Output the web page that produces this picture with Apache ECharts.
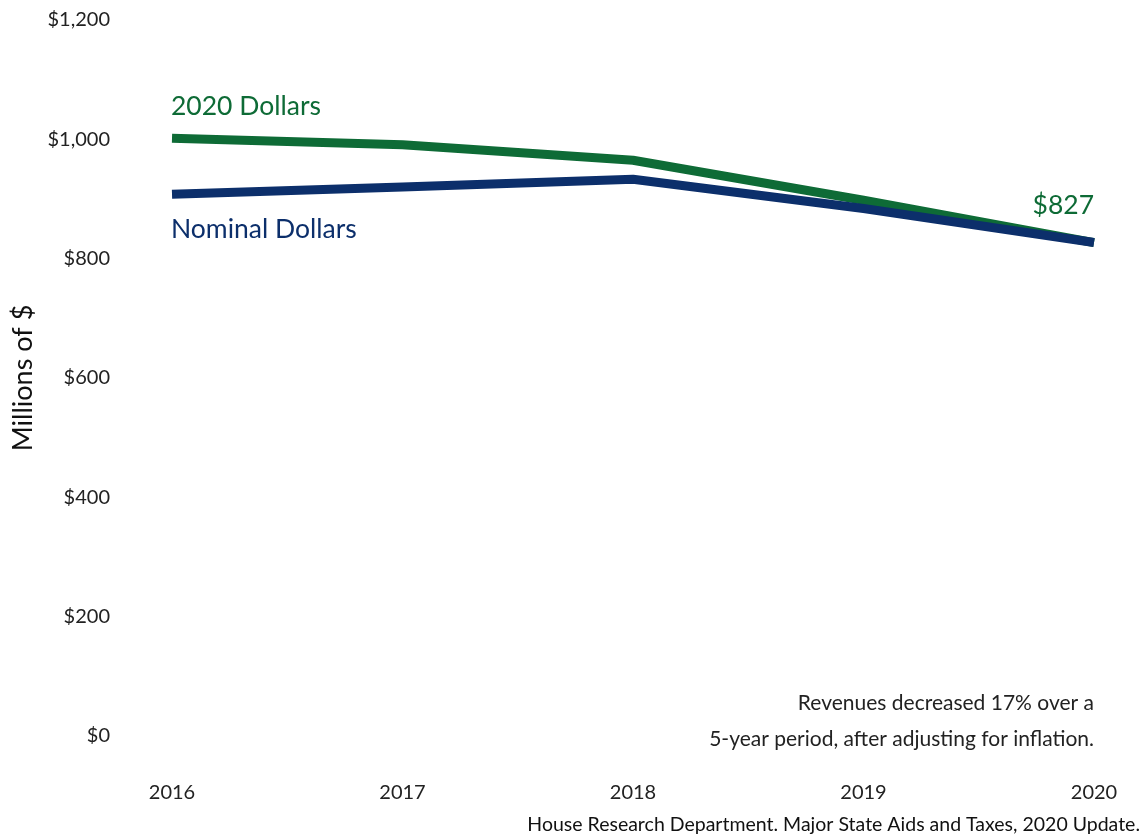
<!DOCTYPE html>
<html>
<head>
<meta charset="utf-8">
<script src="https://cdn.jsdelivr.net/npm/echarts@6/dist/echarts.min.js"></script>
<style>
  html, body { margin: 0; padding: 0; background: #fff; }
  #chart { width: 1146px; height: 840px; }
</style>
</head>
<body>
<div id="chart"></div>
<script>
// data (millions of $)
var years = ['2016', '2017', '2018', '2019', '2020'];
var realDollars = [1002, 991, 965, 898, 827];
var nominalDollars = [908, 920, 933, 884, 827];
var yTicks = [0, 200, 400, 600, 800, 1000, 1200];

var green = '#0e6b36';
var navy = '#0c2f6b';
var font = 'Lato';

var chart = echarts.init(document.getElementById('chart'));

var option = {
  backgroundColor: '#fff',
  animation: false,
  textStyle: { fontFamily: font },
  grid: {
    left: 172,
    right: 52,
    top: 20,
    bottom: 104
  },
  xAxis: {
    type: 'category',
    boundaryGap: false,
    data: years,
    axisLine: { show: false },
    axisTick: { show: false },
    axisLabel: {
      color: '#222',
      fontSize: 20,
      fontFamily: font,
      margin: 47
    }
  },
  yAxis: {
    type: 'value',
    min: yTicks[0],
    max: yTicks[yTicks.length - 1],
    interval: 200,
    name: 'Millions of $',
    nameLocation: 'middle',
    nameGap: 130,
    nameTextStyle: { color: '#111', fontSize: 27, fontFamily: font },
    splitLine: { show: false },
    axisLine: { show: false },
    axisTick: { show: false },
    axisLabel: {
      color: '#222',
      fontSize: 20,
      fontFamily: font,
      margin: 62,
      formatter: function (v) {
        return '$' + v.toLocaleString('en-US');
      }
    }
  },
  series: [
    {
      name: '2020 Dollars',
      type: 'line',
      data: realDollars,
      symbol: 'none',
      lineStyle: { color: green, width: 9, cap: 'butt', join: 'round' },
      z: 2
    },
    {
      name: 'Nominal Dollars',
      type: 'line',
      data: nominalDollars,
      symbol: 'none',
      lineStyle: { color: navy, width: 9, cap: 'butt', join: 'round' },
      z: 3
    }
  ],
  graphic: [
    {
      type: 'text', left: 171, top: 93,
      style: { text: '2020 Dollars', fill: green, fontSize: 26.5, fontFamily: font }
    },
    {
      type: 'text', left: 171, top: 216,
      style: { text: 'Nominal Dollars', fill: navy, fontSize: 26.5, fontFamily: font }
    },
    {
      type: 'text', right: 52, top: 192,
      style: { text: '$827', fill: green, fontSize: 26.5, fontFamily: font }
    },
    {
      type: 'text', right: 52, top: 693,
      style: { text: 'Revenues decreased 17% over a', fill: '#222', fontSize: 21, fontFamily: font, align: 'right' }
    },
    {
      type: 'text', right: 52, top: 729,
      style: { text: '5-year period, after adjusting for inflation.', fill: '#222', fontSize: 21, fontFamily: font, align: 'right' }
    },
    {
      type: 'text', right: 6, top: 815,
      style: { text: 'House Research Department. Major State Aids and Taxes, 2020 Update.', fill: '#111', fontSize: 19.5, fontFamily: font, align: 'right' }
    }
  ]
};

chart.setOption(option);
</script>
</body>
</html>
